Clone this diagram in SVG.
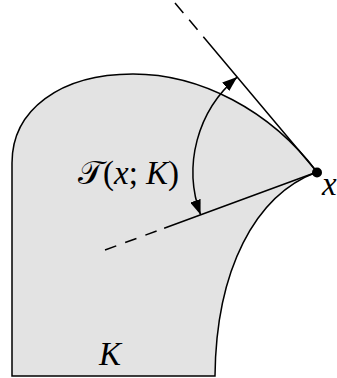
<svg xmlns="http://www.w3.org/2000/svg" width="337" height="378" viewBox="0 0 337 378">
<style>
.ln{fill:none;stroke:#000;stroke-width:1.5;stroke-linecap:butt}
.tx{font-family:"Liberation Serif","DejaVu Serif",serif;font-size:33px;fill:#000}
.it{font-style:italic}
</style>
<defs>
<marker id="ah" viewBox="0 0 15 11" refX="15" refY="5.5" markerWidth="15" markerHeight="11" markerUnits="userSpaceOnUse" orient="auto-start-reverse">
<path d="M0,0 L15,5.5 L0,11 z" fill="#000"/>
</marker>
</defs>
<g id="K">
<path d="M12,376 L12,163 C12,110 60,74 133,74 C200,74 270,110 317,172 C255,195 216,270 215,376 Z" fill="#e3e3e3" stroke="#000" stroke-width="1.5"/>
<text class="tx it" x="99" y="365">K</text>
</g>
<g id="connectors">
<path class="ln" d="M175,3 L317,172" stroke-dasharray="13 9 13 9 400 9"/>
<path class="ln" d="M105,250 L317,172" stroke-dasharray="12 9.5 12 9.5 12 8 400 8"/>
<path class="ln" d="M237.2,77.1 A124,124 0 0 0 200.6,214.8" marker-start="url(#ah)" marker-end="url(#ah)"/>
</g>
<g id="point-x">
<circle cx="317" cy="172.5" r="5" fill="#000"/>
<text class="tx it" x="322" y="195">x</text>
</g>
<g id="label-T">
<text class="tx" x="78" y="184"><tspan font-family="'DejaVu Serif','DejaVu Sans','Noto Sans',serif">𝒯</tspan>(<tspan class="it">x</tspan>; <tspan class="it">K</tspan>)</text>
</g>
</svg>
